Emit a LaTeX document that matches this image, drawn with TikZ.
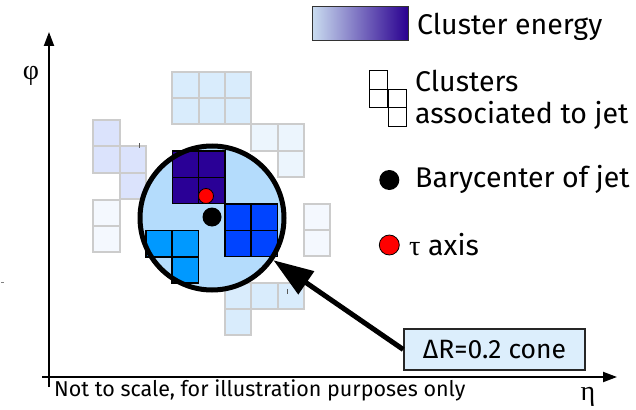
\documentclass[tikz,border=0pt]{standalone}
\usepackage{fontspec}
\setmainfont{Fira Sans}
\newfontfamily\grk{Liberation Serif}
\usetikzlibrary{arrows.meta}
\definecolor{cellTop}{HTML}{D9ECFC}
\definecolor{cellPale}{HTML}{ECF5FD}
\definecolor{cellLav}{HTML}{DBE3FC}
\definecolor{cellFaint}{HTML}{F4F8FE}
\definecolor{cellGrey}{HTML}{CCCCCC}
\definecolor{jetDark}{HTML}{2A0096}
\definecolor{jetBlue}{HTML}{0044FF}
\definecolor{jetSky}{HTML}{0099FF}
\definecolor{coneFill}{HTML}{B4DCFC}
\definecolor{boxFill}{HTML}{DCEEFC}
\definecolor{gradLo}{HTML}{CADDF0}
\definecolor{gradHi}{HTML}{2A0090}
\newcommand\gcell[3]{\fill[#3] (#1,#2) rectangle ++(26.3,26.3);\draw[cellGrey,line width=2pt] (#1,#2) rectangle ++(26.3,26.3);}
\newcommand\jcell[3]{\fill[#3] (#1,#2) rectangle ++(26.3,26.3);\draw[black,line width=1.5pt] (#1,#2) rectangle ++(26.3,26.3);}
\newcommand\lcell[2]{\draw[black,line width=1pt] (#1,#2) rectangle ++(18.6,18.6);}
\tikzset{
  lbl/.style={anchor=base west,inner sep=0pt,font=\fontsize{28.5}{32}\selectfont},
  small/.style={anchor=base west,inner sep=0pt,font=\fontsize{21.5}{24}\selectfont},
  axis/.style={line width=2pt,-{Triangle[length=14pt,width=10pt]}},
}
\begin{document}
\begin{tikzpicture}[x=1pt,y=-1pt]
\useasboundingbox (0,0) rectangle (636,409);
% outer grey clusters
\gcell{172.3}{71.7}{cellTop}\gcell{198.6}{71.7}{cellTop}\gcell{224.9}{71.7}{cellTop}
\gcell{172.3}{98}{cellTop}\gcell{198.6}{98}{cellTop}\gcell{224.9}{98}{cellTop}
\gcell{251.2}{124.3}{cellPale}\gcell{277.5}{124.3}{cellPale}\gcell{277.5}{150.6}{cellPale}
\gcell{93.3}{120}{cellLav}\gcell{93.3}{146.3}{cellLav}\gcell{119.6}{146.3}{cellLav}\gcell{119.6}{172.6}{cellLav}
\gcell{93.3}{199.5}{cellFaint}\gcell{93.3}{225.8}{cellFaint}
\gcell{304}{203.5}{cellFaint}\gcell{304}{229.8}{cellFaint}
\gcell{224.9}{282.7}{cellTop}\gcell{251.2}{282.7}{cellTop}\gcell{277.5}{282.7}{cellTop}\gcell{224.9}{309}{cellTop}
\draw[gray!70!black,line width=0.8pt] (139,143) -- (139,148);
\draw[gray!70!black,line width=0.8pt] (287,289) -- (287,294);
\draw[gray,line width=0.6pt] (1,282) -- (4,282);
% cone
\node[circle,fill=coneFill,minimum size=144pt,inner sep=0pt,outer sep=2.5pt] (cone) at (212,218) {};
\jcell{172.3}{151}{jetDark}\jcell{198.6}{151}{jetDark}\jcell{172.3}{177.3}{jetDark}\jcell{198.6}{177.3}{jetDark}
\jcell{224.9}{204}{jetBlue}\jcell{251.2}{204}{jetBlue}\jcell{224.9}{230.3}{jetBlue}\jcell{251.2}{230.3}{jetBlue}
\jcell{145.9}{230.6}{jetSky}\jcell{172.2}{230.6}{jetSky}\jcell{172.2}{256.9}{jetSky}
\draw[line width=5pt] (cone.center) circle[radius=72pt];
\node[circle,fill=red,draw=black,line width=0.8pt,minimum size=15pt,inner sep=0pt] (tau) at (206,196) {};
\node[circle,fill=black,minimum size=19pt,inner sep=0pt] (bary) at (212,217) {};
% axes
\coordinate (xo) at (42,377);
\coordinate (xe) at (617,377);
\coordinate (yo) at (49,387);
\coordinate (ye) at (49,32);
\draw[axis] (xo) -- (xe);
\draw[axis] (yo) -- (ye);
\node[anchor=base,inner sep=0pt,font=\grk\fontsize{28}{30}\selectfont] (phi) at (31,80) {φ};
\node[anchor=base,inner sep=0pt,font=\grk\fontsize{28}{30}\selectfont] (eta) at (588,400) {η};
\node[small] (note) at (54,396.7) {Not to scale, for illustration purposes only};
% box + arrow
\node[draw=black!85,line width=1.5pt,fill=boxFill,minimum width=181pt,minimum height=41pt,inner sep=0pt,font=\fontsize{26.5}{30}\selectfont] (box) at (494.5,349.5) {ΔR=0.2 cone};
\draw[line width=5pt,-{Triangle[length=40pt,width=27pt]}] (box.west) -- (cone);
% legend
\shade[left color=gradLo,right color=gradHi] (312,7) rectangle (408,41);
\draw[black!80,line width=1pt] (312,7) rectangle (408,41);
\node[lbl] (l1) at (417,35) {Cluster energy};
\lcell{369.3}{70.7}\lcell{369.3}{89.3}\lcell{388}{89.3}\lcell{388}{107.9}
\node[lbl] (l2) at (415,91.7) {Clusters};
\node[lbl] (l3) at (415,123.3) {associated to jet};
\node[circle,fill=black,minimum size=20pt,inner sep=0pt] (lbary) at (389.3,180) {};
\node[lbl] (l4) at (415,187) {Barycenter of jet};
\node[circle,fill=red,draw=black,line width=0.8pt,minimum size=20pt,inner sep=0pt] (ltau) at (389.3,245) {};
\node[lbl] (l5) at (409,255) {{\grk τ} axis};
\end{tikzpicture}
\end{document}
